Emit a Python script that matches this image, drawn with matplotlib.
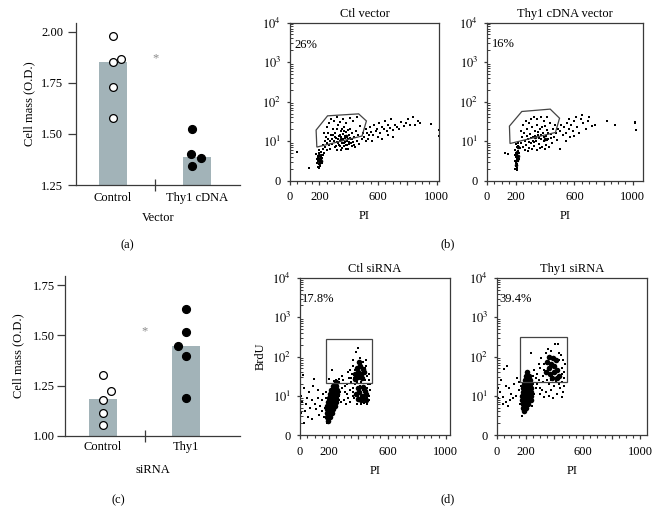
import numpy as np
import matplotlib
matplotlib.use('Agg')
import matplotlib.pyplot as plt
from matplotlib.patches import Polygon, Rectangle

plt.rcParams['font.family'] = ['Liberation Serif', 'DejaVu Serif']
plt.rcParams['mathtext.fontset'] = 'stix'
plt.rcParams['font.size'] = 9

# ---------------- data ----------------
# (a) vector transfection, cell mass (O.D.)
vec_groups = ['Control', 'Thy1 cDNA']
vec_means = [1.853, 1.387]
vec_ctrl_pts = [1.980, 1.869, 1.851, 1.732, 1.577]
vec_thy1_pts = [1.525, 1.402, 1.381, 1.345]
vec_star = 1.87

# (c) siRNA, cell mass (O.D.)
si_groups = ['Control', 'Thy1']
si_means = [1.182, 1.449]
si_ctrl_pts = [1.303, 1.225, 1.179, 1.113, 1.053]
si_thy1_pts = [1.629, 1.517, 1.447, 1.396, 1.189]
si_star = 1.52

# flow panels: (PI, BrdU in decades: 0, 10^1 .. 10^4)
ctl_vector_pct = '26%'
ctl_vector_gate = [(178, 1.28), (256, 1.64), (468, 1.69), (521, 1.51), (491, 1.13), (183, 0.85)]
ctl_vector_dots = [
    (48, 0.73), (130, 0.33), (1015, 1.28), (1015, 1.12), (960, 1.44),
    (185, 0.45), (192, 0.5), (198, 0.42), (205, 0.55), (188, 0.6), (200, 0.62), (210, 0.48), (195, 0.7),
    (215, 0.65), (205, 0.38), (220, 0.58), (190, 0.35), (212, 0.72), (225, 0.8), (180, 0.68), (230, 0.7),
    (200, 0.78), (218, 0.45), (196, 0.53), (208, 0.6), (186, 0.55), (202, 0.47), (214, 0.52), (192, 0.62),
    (198, 0.32), (222, 0.66),
    (240, 0.85), (255, 0.95), (262, 1.05), (270, 0.8), (278, 1.15), (285, 0.92), (290, 1.3), (298, 1.0),
    (305, 0.85), (310, 1.2), (315, 1.08), (320, 0.78), (325, 1.4), (330, 0.95), (335, 1.12), (340, 0.88),
    (345, 1.25), (350, 1.02), (355, 0.82), (360, 1.18), (365, 0.96), (370, 1.35), (375, 1.08), (380, 0.9),
    (385, 1.22), (390, 1.0), (395, 0.8), (400, 1.15), (405, 0.93), (410, 1.3), (415, 1.05), (420, 0.87),
    (425, 1.2), (430, 0.98), (438, 1.1), (445, 0.85), (450, 1.25), (458, 1.0), (465, 1.15), (472, 0.92),
    (480, 1.38), (488, 1.05), (495, 1.2),
    (268, 1.45), (282, 1.55), (300, 1.5), (318, 1.6), (340, 1.48), (360, 1.55), (385, 1.45), (410, 1.58),
    (430, 1.5), (455, 1.6), (250, 1.35), (235, 1.2), (245, 1.1),
    (328, 1.05), (338, 1.0), (348, 1.1), (352, 0.95), (362, 1.05), (368, 0.88), (372, 1.12), (378, 0.98),
    (388, 1.1), (392, 0.9), (398, 1.05), (402, 0.98), (342, 1.15), (332, 0.9), (318, 0.98), (308, 1.1),
    (296, 1.15), (288, 1.05), (275, 1.0), (265, 0.9), (355, 1.3), (365, 1.25), (395, 1.28), (415, 0.95),
    (425, 1.05), (435, 0.9), (312, 0.88), (322, 1.3), (346, 0.78), (382, 0.8), (408, 1.08), (260, 1.2),
    (250, 0.78), (238, 1.0), (228, 0.9),
    (505, 1.1), (515, 1.3), (525, 1.2), (535, 1.05), (545, 1.35), (555, 1.22), (565, 1.15), (575, 1.4),
    (585, 1.25), (595, 1.3), (605, 1.45), (615, 1.2), (625, 1.35), (640, 1.3), (650, 1.5), (660, 1.25),
    (670, 1.4), (680, 1.32), (690, 1.55), (700, 1.28), (715, 1.42), (730, 1.35), (745, 1.3), (760, 1.48),
    (775, 1.38), (790, 1.45), (805, 1.55), (820, 1.4), (840, 1.6), (855, 1.42), (870, 1.5), (885, 1.45),
    (520, 1.0), (540, 1.15), (560, 1.0), (600, 1.1), (630, 1.05), (665, 1.15), (700, 1.1),
]
ctl_vector_core = [(195, 0.45), (205, 0.55), (200, 0.65), (210, 0.5), (192, 0.58), (350, 1.05), (380, 1.12)]

thy1_vector_pct = '16%'
thy1_vector_gate = [(154, 1.38), (239, 1.75), (434, 1.81), (498, 1.58), (470, 1.22), (158, 0.94)]
thy1_vector_dots = [
    (147, 0.68), (124, 0.7), (1018, 1.49), (1018, 1.45), (1022, 1.28), (881, 1.41), (824, 1.52), (743, 1.41),
    (195, 0.3), (200, 0.38), (205, 0.33), (198, 0.45), (208, 0.42), (192, 0.5), (203, 0.55), (212, 0.5),
    (196, 0.6), (207, 0.65), (215, 0.6), (200, 0.7), (210, 0.75), (220, 0.7), (194, 0.78), (205, 0.85),
    (215, 0.88), (225, 0.82), (198, 0.92), (212, 0.95), (202, 0.48), (190, 0.65), (218, 0.55), (206, 0.28),
    (230, 0.95), (240, 1.1), (248, 0.85), (255, 1.2), (262, 1.0), (270, 0.9), (275, 1.3), (282, 1.05),
    (290, 0.82), (295, 1.18), (302, 0.95), (308, 1.35), (315, 1.1), (322, 0.88), (328, 1.25), (335, 1.0),
    (342, 1.42), (348, 1.15), (355, 0.92), (362, 1.3), (368, 1.05), (375, 0.85), (382, 1.2), (388, 1.0),
    (395, 1.38), (402, 1.12), (408, 0.9), (415, 1.28), (422, 1.05), (430, 1.45), (438, 1.18), (445, 0.95),
    (452, 1.3), (460, 1.1), (468, 1.4), (475, 1.2), (482, 1.02), (490, 1.3), (235, 1.25), (250, 1.4),
    (265, 1.5), (285, 1.45), (300, 1.55), (320, 1.6), (345, 1.55), (370, 1.6), (390, 1.52), (412, 1.6),
    (258, 0.78), (280, 0.75), (310, 0.8), (340, 0.78), (365, 0.82), (398, 0.8), (428, 0.85), (318, 1.0),
    (332, 1.12), (358, 1.08), (372, 1.15), (392, 1.1), (410, 1.02), (272, 1.12), (288, 0.98), (305, 1.08),
    (325, 0.98), (352, 1.22), (380, 1.35), (420, 1.2), (440, 1.08), (498, 0.79),
    (500, 1.25), (510, 1.4), (520, 1.15), (530, 1.35), (540, 1.2), (550, 1.45), (560, 1.3), (570, 1.1),
    (580, 1.4), (590, 1.25), (600, 1.5), (615, 1.35), (630, 1.2), (645, 1.55), (660, 1.45), (680, 1.3),
    (700, 1.6), (720, 1.38), (560, 1.55), (610, 1.62), (650, 1.65), (540, 1.0), (600, 1.12), (690, 1.5),
]
thy1_vector_core = [(200, 0.4), (205, 0.52), (210, 0.62), (203, 0.72), (212, 0.85), (330, 1.1), (400, 1.05)]

ctl_sirna_pct = '17.8%'
ctl_sirna_gate = (178, 495, 1.33, 2.44)
ctl_sirna_dots = [
    (20, 1.52), (94, 1.43), (30, 1.2), (60, 1.1), (45, 0.95), (80, 0.9), (15, 0.85), (100, 0.8), (120, 0.95),
    (70, 0.7), (35, 0.6), (110, 0.65), (140, 0.75), (55, 0.45), (85, 0.4), (25, 0.3), (130, 0.5), (150, 0.9),
    (160, 1.05), (10, 1.0), (40, 0.78), (125, 1.15), (5, 0.55), (90, 1.25), (150, 0.6), (165, 0.45),
    (170, 0.7), (270, 1.0), (285, 1.2), (300, 0.9), (310, 1.1), (320, 1.3), (330, 0.95), (340, 1.15),
    (350, 1.35), (295, 1.4), (280, 0.85), (315, 0.8), (345, 0.85), (360, 1.0), (265, 1.35), (305, 1.25),
    (335, 1.45), (355, 1.55), (290, 1.5), (221, 1.65), (198, 1.42), (365, 1.9), (386, 2.11), (400, 2.22),
    (250, 1.4), (270, 1.42), (230, 1.38), (345, 1.65), (360, 1.75), (455, 1.75), (460, 1.5), (470, 1.4),
    (450, 1.9), (465, 1.3), (475, 1.55), (350, 1.45), (330, 1.6), (470, 1.0), (480, 1.15), (460, 0.8),
    (475, 0.9), (480, 1.3), (390, 0.8), (420, 0.78), (440, 0.82), (275, 1.1), (325, 1.05), (365, 1.2),
    (380, 1.3), (420, 1.35), (445, 1.4), (372, 1.45), (410, 1.95), (435, 1.85),
    (365, 1.1), (372, 0.95), (458, 1.2), (462, 0.95), (445, 1.7), (380, 1.65), (418, 1.8), (392, 1.35),
    (432, 1.15), (412, 1.25), (398, 1.0), (175, 0.95), (178, 1.1), (262, 1.25), (268, 0.9), (185, 0.3),
]
ctl_sirna_core = [
    (190, 0.35), (188, 0.45), (203, 0.45), (183, 0.55), (201, 0.55), (219, 0.55), (184, 0.65), (206, 0.65),
    (228, 0.65), (186, 0.75), (212, 0.75), (238, 0.75), (190, 0.85), (217, 0.85), (244, 0.85), (196, 0.95),
    (223, 0.95), (250, 0.95), (204, 1.05), (228, 1.05), (253, 1.05), (214, 1.15), (234, 1.15), (254, 1.15),
    (228, 1.25), (250, 1.25), (245, 1.35),
    (380, 1.55), (400, 1.6), (420, 1.55), (390, 1.7), (410, 1.75), (430, 1.68), (395, 1.48), (425, 1.45),
    (440, 1.6), (405, 1.85), (375, 1.42), (385, 1.05), (405, 1.1), (425, 1.0), (445, 1.12), (395, 0.92),
    (415, 0.9), (435, 0.95), (455, 1.05), (400, 1.2), (430, 1.22), (450, 0.88),
]

thy1_sirna_pct = '39.4%'
thy1_sirna_gate = (160, 485, 1.36, 2.49)
thy1_sirna_dots = [
    (73, 1.77), (49, 1.68), (30, 1.4), (60, 1.25), (20, 1.1), (85, 1.2), (40, 0.98), (10, 0.95), (100, 1.05),
    (65, 0.85), (120, 1.3), (140, 1.45), (110, 0.95), (75, 0.75), (150, 1.15), (45, 0.8), (130, 1.0),
    (5, 1.2), (90, 0.9), (155, 1.35), (165, 1.0), (171, 0.49), (189, 0.58),
    (236, 2.09), (353, 2.18), (407, 2.33), (423, 2.33), (260, 1.65), (280, 1.55), (300, 1.7), (320, 1.5),
    (290, 1.8), (310, 1.95), (330, 1.8), (450, 1.7), (460, 1.9), (445, 2.05), (470, 1.6), (465, 1.45),
    (475, 1.8), (250, 1.5), (270, 1.45), (340, 2.1), (430, 2.1), (380, 2.15),
    (280, 1.3), (300, 1.2), (320, 1.35), (340, 1.1), (360, 1.3), (380, 1.15), (400, 1.25), (420, 1.05),
    (440, 1.2), (460, 1.1), (300, 1.05), (330, 0.98), (360, 1.0), (390, 0.95), (410, 1.38), (430, 1.3),
    (450, 0.98), (270, 1.2), (350, 1.4), (470, 1.25), (290, 1.4), (315, 1.15), (375, 1.4), (455, 1.35),
    (255, 1.05), (250, 1.3), (160, 0.8), (168, 1.25), (245, 0.75), (435, 1.9), (325, 1.65), (455, 1.55),
]
thy1_sirna_core = [
    (190, 0.6), (182, 0.7), (202, 0.7), (178, 0.8), (198, 0.8), (218, 0.8), (175, 0.9), (196, 0.9),
    (218, 0.9), (236, 0.9), (176, 1.0), (197, 1.0), (218, 1.0), (238, 1.0), (178, 1.1), (199, 1.1),
    (220, 1.1), (240, 1.1), (182, 1.2), (202, 1.2), (222, 1.2), (238, 1.2), (188, 1.3), (208, 1.3),
    (228, 1.3), (193, 1.4), (213, 1.4), (230, 1.4), (200, 1.5), (220, 1.5), (210, 1.6),
    (340, 1.6), (360, 1.7), (380, 1.8), (400, 1.75), (420, 1.65), (370, 1.55), (390, 1.95), (410, 1.9),
    (350, 1.85), (430, 1.5), (395, 1.6), (365, 2.0), (415, 1.45), (385, 1.45),
]

# ---------------- layout helpers ----------------
W, H = 662, 525
BAR = '#a2b3b8'
AXC = '#3a3a3a'


def px_axes(fig, left, top, right, bottom):
    return fig.add_axes([left / W, 1 - bottom / H, (right - left) / W, (bottom - top) / H])


def bar_panel(fig, box, groups, means, ctrl, ctrl_dx, thy1, thy1_dx, star, ylim, yticks,
              xlim, xlabel, tick_pad, ylab_pad, xlab_pad, xt_pad):
    ax = px_axes(fig, *box)
    x = np.arange(len(groups))
    ax.bar(x, means, width=0.33, color=BAR, zorder=1)
    ax.plot(x[0] + np.array(ctrl_dx), ctrl, 'o', mfc='white', mec='k', ms=5.6, mew=0.9, zorder=3)
    ax.plot(x[1] + np.array(thy1_dx), thy1, 'o', color='k', ms=5.6, zorder=3)
    ax.text(0.5, star, '*', ha='center', va='center', color='#8a8a8a', fontsize=9)
    ax.set_ylim(*ylim)
    ax.set_xlim(*xlim)
    ax.set_yticks(yticks)
    ax.set_yticklabels([f'{v:.2f}' for v in yticks])
    ax.set_xticks(x)
    ax.set_xticklabels(groups)
    ax.set_xticks([0.5], minor=True)
    ax.tick_params(axis='x', which='major', length=0, pad=xt_pad)
    ax.tick_params(axis='x', which='minor', direction='inout', length=8, width=0.9, color=AXC)
    ax.tick_params(axis='y', length=5.8, width=0.9, color=AXC, pad=tick_pad)
    for s in ('top', 'right'):
        ax.spines[s].set_visible(False)
    for s in ('left', 'bottom'):
        ax.spines[s].set_color(AXC)
        ax.spines[s].set_linewidth(0.9)
    ax.set_ylabel('Cell mass (O.D.)', labelpad=ylab_pad)
    ax.set_xlabel(xlabel, labelpad=xlab_pad)
    return ax


def flow_panel(fig, box, dots, core, gate, pct, pct_xy, title, xmax, core_ms, ylabel=None):
    ax = px_axes(fig, *box)
    d = np.array(dots)
    c = np.array(core)
    ax.plot(d[:, 0], d[:, 1], 's', color='k', ms=1.7, mew=0, zorder=2)
    ax.plot(c[:, 0], c[:, 1], 'o', color='k', ms=core_ms, mew=0, zorder=2)
    if isinstance(gate, tuple):
        x0, x1, y0, y1 = gate
        ax.add_patch(Rectangle((x0, y0), x1 - x0, y1 - y0, fill=False, ec='#444', lw=0.9, zorder=3))
    else:
        ax.add_patch(Polygon(gate, closed=True, fill=False, ec='#444', lw=0.9, zorder=3))
    ax.text(pct_xy[0], pct_xy[1], pct, ha='left', va='center')
    ax.set_xlim(0, xmax)
    ax.set_ylim(0, 4)
    ax.set_xticks([0, 200, 400, 600, 800, 1000])
    ax.set_xticklabels(['0', '200', '', '600', '', '1000'])
    ax.set_xticks(np.arange(0, 1001, 50), minor=True)
    ax.set_yticks([0, 1, 2, 3, 4])
    ax.set_yticklabels(['0', r'$10^1$', r'$10^2$', r'$10^3$', r'$10^4$'])
    ax.set_yticks([dec + np.log10(k) for dec in range(4) for k in range(2, 10)], minor=True)
    ax.tick_params(axis='x', which='major', length=3.2, width=0.9, pad=4.5, color=AXC)
    ax.tick_params(axis='x', which='minor', length=2.2, width=0.8, color=AXC)
    ax.tick_params(axis='y', which='major', length=2.5, width=0.9, pad=4, color=AXC)
    ax.tick_params(axis='y', which='minor', direction='in', length=2.5, width=0.7, color=AXC)
    for s in ax.spines.values():
        s.set_color(AXC)
        s.set_linewidth(0.9)
    ax.set_title(title, pad=4, fontsize=9)
    ax.set_xlabel('PI', labelpad=5)
    if ylabel:
        ax.set_ylabel(ylabel, labelpad=4)
    return ax


fig = plt.figure(figsize=(W / 100, H / 100), dpi=100)

# (a)
bar_panel(fig, (76, 23, 240, 185), vec_groups, vec_means, vec_ctrl_pts, [0, 0.095, 0, 0, 0],
          vec_thy1_pts, [-0.06, -0.07, 0.05, -0.06], vec_star, (1.25, 2.044),
          [1.25, 1.5, 1.75, 2.0], (-0.44, 1.51), 'Vector', 3.5, 4, 6, 5)

# (c)
bar_panel(fig, (65, 276, 240, 436), si_groups, si_means, si_ctrl_pts, [0, 0.1, 0, 0, 0],
          si_thy1_pts, [0, 0, -0.1, 0, 0], si_star, (1.0, 1.795),
          [1.0, 1.25, 1.5, 1.75], (-0.458, 1.65), 'siRNA', 1.5, 6, 8, 3.5)

# (b)
flow_panel(fig, (290, 22.5, 439, 180.7), ctl_vector_dots, ctl_vector_core, ctl_vector_gate,
           ctl_vector_pct, (27, 3.43), 'Ctl vector', 1016, 2.6)
flow_panel(fig, (487, 22.5, 643, 180.7), thy1_vector_dots, thy1_vector_core, thy1_vector_gate,
           thy1_vector_pct, (34, 3.46), 'Thy1 cDNA vector', 1071, 2.6)

# (d)
flow_panel(fig, (300, 278, 450, 435), ctl_sirna_dots, ctl_sirna_core, ctl_sirna_gate,
           ctl_sirna_pct, (14, 3.46), 'Ctl siRNA', 1028, 4.0, ylabel='BrdU')
flow_panel(fig, (497, 278, 647, 435), thy1_sirna_dots, thy1_sirna_core, thy1_sirna_gate,
           thy1_sirna_pct, (19, 3.47), 'Thy1 siRNA', 1046, 4.0)

for lab, (px, py) in {'(a)': (127, 245), '(b)': (448, 244), '(c)': (118, 500), '(d)': (448, 499)}.items():
    fig.text(px / W, 1 - py / H, lab, ha='center', va='center')

fig.savefig('out.png', dpi=100, facecolor='white')
